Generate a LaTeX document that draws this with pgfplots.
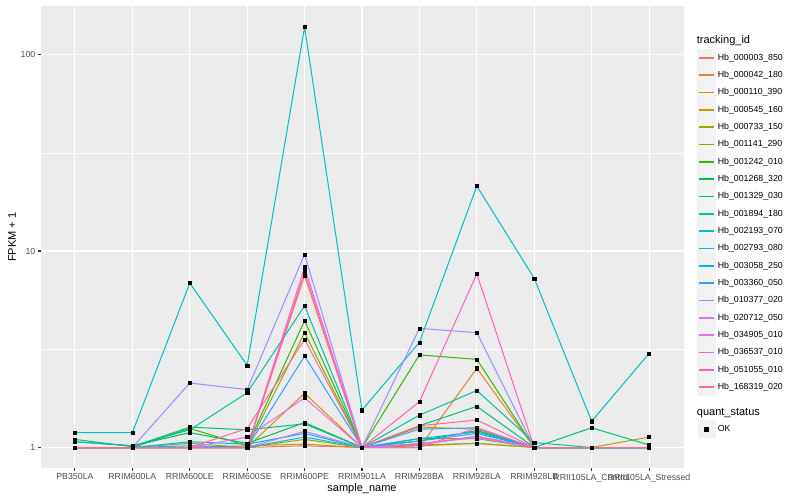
\documentclass[border=0pt]{standalone}
\usepackage{fontspec}
\setmainfont{Liberation Sans}
\usepackage{pgfplots}
\usepackage{pgfplotstable}
\pgfplotsset{compat=1.18}

% ggplot hue palette, 20 levels
\definecolor{c1}{HTML}{F8766D}
\definecolor{c2}{HTML}{EA8331}
\definecolor{c3}{HTML}{D89000}
\definecolor{c4}{HTML}{C09B00}
\definecolor{c5}{HTML}{A3A500}
\definecolor{c6}{HTML}{7CAE00}
\definecolor{c7}{HTML}{39B600}
\definecolor{c8}{HTML}{00BB4E}
\definecolor{c9}{HTML}{00BF7D}
\definecolor{c10}{HTML}{00C1A3}
\definecolor{c11}{HTML}{00BFC4}
\definecolor{c12}{HTML}{00BAE0}
\definecolor{c13}{HTML}{00B0F6}
\definecolor{c14}{HTML}{35A2FF}
\definecolor{c15}{HTML}{9590FF}
\definecolor{c16}{HTML}{C77CFF}
\definecolor{c17}{HTML}{E76BF3}
\definecolor{c18}{HTML}{FA62DB}
\definecolor{c19}{HTML}{FF62BC}
\definecolor{c20}{HTML}{FF6C91}
\definecolor{bggray}{HTML}{EBEBEB}
\definecolor{keygray}{HTML}{F2F2F2}
\definecolor{tickgray}{HTML}{333333}
\definecolor{labgray}{HTML}{4D4D4D}

% FPKM + 1, one column per tracking_id, rows = samples 0..10
\pgfplotstableread{
x  s1   s2   s3   s4   s5   s6   s7   s8   s9   s10  s11  s12  s13  s14  s15  s16  s17  s18  s19  s20
0  1    1    1    1    1    1    1    1.07 1.10 1.07 1.19 1    1    1    1    1    1    1    1    1
1  1    1    1    1    1    1    1    1.02 1.01 1.02 1.19 1    1    1    1    1    1    1    1    1
2  1    1    1    1    1    1.05 1.25 1.19 1.27 1.23 6.87 1.02 1.07 1    2.13 1    1    1    1    1
3  1    1    1    1.02 1    1    1.02 1.05 1.23 1.90 2.62 1    1.04 1    1.97 1    1.13 1    1    1.25
4  1.02 7.50 1.89 1.04 1.10 3.84 4.42 1.34 1.32 5.26 138  1.13 1.18 2.92 9.62 1.21 1.79 8.27 7.80 3.55
5  1    1    1    1    1    1    1    1    1    1    1.55 1    1    1    1    1    1    1    1    1
6  1.03 1.00 1.27 1.02 1.03 1.11 2.96 1.08 1.29 1.46 3.43 1.08 1.11 1.24 4.04 1.05 1.00 1.04 1.71 1.29
7  1.14 2.53 1.24 1.05 1.05 1.11 2.81 1.22 1.62 1.95 21.4 1.18 1.20 1.26 3.84 1.12 1.26 1.14 7.65 1.38
8  1    1    1    1    1    1    1    1    1    1.06 7.26 1    1    1    1    1    1    1    1    1
9  1    1    1    1    1    1    1    1    1.26 1    1.36 1    1    1    1    1    1    1    1    1
10 1    1    1    1    1.13 1    1    1    1.03 1    3.01 1    1    1    1    1    1    1    1    1
}\fpkm

\begin{document}
\begin{tikzpicture}[x=1pt,y=1pt]
\path[use as bounding box] (0,0) rectangle (800,500);
\begin{axis}[
  at={(40.5pt,31.5pt)}, anchor=south west,
  scale only axis, width=643pt, height=462.5pt,
  ymode=log, xmin=-0.6, xmax=10.6, ymin=0.782, ymax=176.6,
  axis background/.style={fill=bggray},
  axis line style={draw=none},
  xtick={0,...,10},
  xticklabels={PB350LA,RRIM600LA,RRIM600LE,RRIM600SE,RRIM600PE,RRIM901LA,RRIM928BA,RRIM928LA,RRIM928LB,RRII105LA\_Control,RRII105LA\_Stressed},
  ytick={1,10,100}, yticklabels={1,10,100},
  minor ytick={3.1623,31.623},
  xmajorgrids, ymajorgrids, yminorgrids,
  major grid style={white, line width=1.07pt},
  minor grid style={white, line width=0.53pt},
  tick align=outside, tick pos=left,
  major tick length=2.75pt, minor tick length=0pt,
  tick style={color=tickgray, line width=1.07pt},
  ticklabel style={font=\fontsize{8.8}{10}\selectfont, text=labgray, inner sep=0pt},
  xticklabel style={yshift=-2.2pt},
  yticklabel style={xshift=-2.2pt},
  xlabel={sample\_name}, ylabel={FPKM + 1},
  label style={font=\fontsize{11}{13}\selectfont},
  xlabel style={at={(axis description cs:0.5,0)}, anchor=center, yshift=-20.5pt},
  ylabel style={at={(axis description cs:0,0.5)}, anchor=center, yshift=28.5pt},
  legend style={at={(1,1)}, anchor=north west, xshift=13.8pt, yshift=-42.6pt,
    draw=none, fill=none, inner sep=0pt, outer sep=0pt, row sep=-0.96pt,
    font=\fontsize{8.8}{10}\selectfont, nodes={inner sep=0pt, outer sep=0pt},
    /tikz/every odd column/.append style={column sep=2.2pt}},
  legend cell align=left,
  legend image code/.code={\fill[keygray] (0pt,-8.65pt) rectangle (17.3pt,8.65pt);
    \draw[#1, line width=1.6pt] (0.8pt,0pt) -- (16.5pt,0pt);},
  legend entries={Hb\_000003\_850,Hb\_000042\_180,Hb\_000110\_390,Hb\_000545\_160,Hb\_000733\_150,Hb\_001141\_290,Hb\_001242\_010,Hb\_001268\_320,Hb\_001329\_030,Hb\_001894\_180,Hb\_002193\_070,Hb\_002793\_080,Hb\_003058\_250,Hb\_003360\_050,Hb\_010377\_020,Hb\_020712\_050,Hb\_034905\_010,Hb\_036537\_010,Hb\_051055\_010,Hb\_168319\_020,\phantom{x},OK},
]
\pgfplotsinvokeforeach{1,...,20}{
  \addplot[color=c#1, line width=1pt, no marks] table[x=x, y=s#1]{\fpkm};
}
\pgfplotsinvokeforeach{1,...,20}{
  \addplot[only marks, mark=square*, mark size=1.6pt, black, forget plot] table[x=x, y=s#1]{\fpkm};
}
\addlegendimage{legend image code/.code={\path[draw=none, fill=none] (0pt,-12.85pt) rectangle (17.3pt,12.85pt);}}
\addlegendimage{legend image code/.code={\fill[keygray] (0pt,-8.65pt) rectangle (17.3pt,8.65pt);
    \fill[black] (6.65pt,-2pt) rectangle (10.65pt,2pt);}}
\end{axis}
\node[anchor=base west, font=\fontsize{11}{13}\selectfont, inner sep=0pt] at (696.7,456) {tracking\_id};
\node[anchor=base west, font=\fontsize{11}{13}\selectfont, inner sep=0pt] at (696.7,84) {quant\_status};
\end{tikzpicture}
\end{document}
